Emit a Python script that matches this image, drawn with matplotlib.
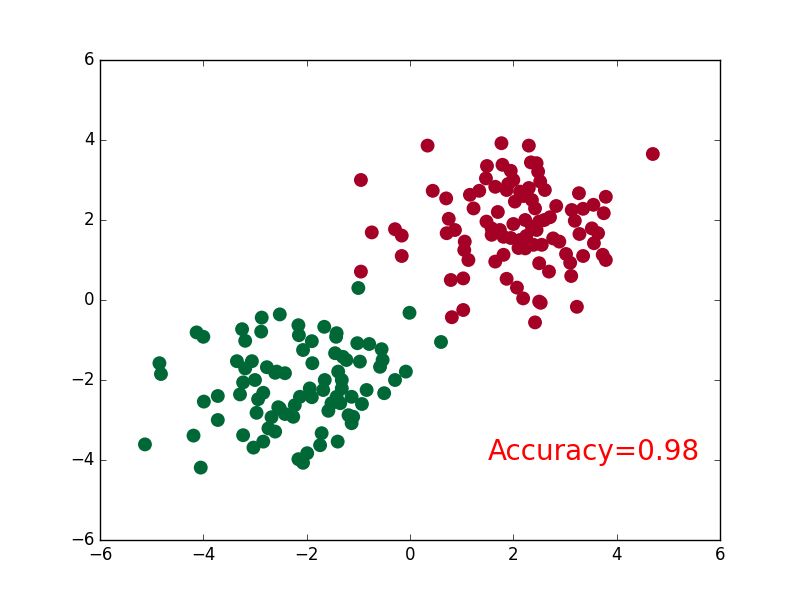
import matplotlib
matplotlib.use("Agg")
import matplotlib.pyplot as plt
import numpy as np

red_x = [0.34, 1.77, 2.30, -0.95, 1.49, 1.79, 1.95, 2.34, 1.47, 1.65, 2.00, 0.44, 0.70, 1.16, 1.34,
         1.23, 1.87, 2.13, 2.03, 2.36, 2.42, 0.75, 0.87, 0.71, 1.48, 1.58, 1.58, 1.81, 1.74, 2.23,
         2.36, 2.13, 2.23, 2.39, -0.74, -0.29, -0.16, 1.06, 1.05, 1.13, -0.16, 1.65, 1.81, 2.50,
         -0.95, 0.79, 1.03, 1.87, 2.07, 2.19, 2.50, 0.81, 1.03, 2.42, 4.70, 2.45, 2.48, 2.52, 2.61,
         3.27, 3.79, 2.83, 3.13, 3.35, 3.55, 3.75, 2.71, 2.50, 3.19, 2.45, 3.52, 3.64, 3.28, 2.77,
         2.89, 2.55, 3.56, 3.02, 3.35, 3.73, 3.79, 3.10, 2.69, 3.12, 2.53, 3.23,
         2.20, 1.90, 2.10, 2.60, 1.70, 2.00, 2.30, 1.95, 2.25]
red_y = [3.86, 3.92, 3.86, 3.00, 3.35, 3.38, 3.23, 3.44, 3.04, 2.83, 3.00, 2.73, 2.54, 2.63, 2.73,
         2.29, 2.75, 2.71, 2.46, 2.50, 2.29, 2.03, 1.75, 1.67, 1.96, 1.79, 1.63, 1.58, 1.75, 2.00,
         1.83, 1.50, 1.29, 1.38, 1.69, 1.77, 1.61, 1.46, 1.25, 1.00, 1.10, 0.96, 1.13, 0.92,
         0.71, 0.50, 0.54, 0.53, 0.31, 0.04, -0.04, -0.43, -0.25, -0.56, 3.65, 3.42, 3.21, 2.96, 2.75,
         2.67, 2.58, 2.35, 2.25, 2.28, 2.38, 2.17, 2.07, 1.96, 1.98, 1.75, 1.79, 1.67, 1.65, 1.54,
         1.46, 1.38, 1.42, 1.15, 1.10, 1.13, 1.00, 0.93, 0.71, 0.60, -0.07, -0.17,
         2.60, 2.90, 1.30, 2.00, 2.20, 1.90, 2.80, 1.55, 1.60]

green_x = [-2.87, -2.52, -4.13, -4.00, -3.25, -3.19, -2.88, -4.85, -4.82, -3.35, -3.06, -3.19, -2.77,
           -2.61, -3.23, -3.00, -3.29, -3.72, -3.99, -2.84, -2.94, -2.55, -2.97, -2.68, -3.72, -2.74,
           -2.61, -4.19, -3.23, -2.84, -3.03, -5.13, -4.05, -1.00, -0.01, -2.16, -2.15, -1.66, -1.42,
           -1.43, -1.90, -2.07, -1.02, -0.79, -0.55, -1.45, -1.30, -1.23, -0.97, -0.53, -0.58, -1.89,
           -2.58, -2.42, -1.39, -1.32, -0.08, -0.29, -1.65, -1.94, -1.68, -0.84, -1.32, -0.50, -2.13,
           -1.90, -1.42, -1.13, -0.93, -2.23, -2.52, -1.52, -1.35, -1.58, -2.26, -2.42, -1.19, -1.10,
           -1.13, -1.71, -1.74, -1.40, -1.99, -2.16, -2.07, 0.60]
green_y = [-0.44, -0.36, -0.81, -0.92, -0.73, -1.02, -0.79, -1.58, -1.85, -1.53, -1.53, -1.71, -1.68,
           -1.82, -2.06, -2.00, -2.36, -2.40, -2.54, -2.32, -2.48, -2.68, -2.82, -2.93, -3.00, -3.21,
           -3.29, -3.39, -3.38, -3.54, -3.69, -3.61, -4.19, 0.30, -0.32, -0.63, -0.88, -0.67, -0.83,
           -0.92, -1.03, -1.25, -1.08, -1.10, -1.23, -1.33, -1.42, -1.50, -1.54, -1.50, -1.67, -1.58,
           -1.79, -1.83, -1.79, -2.00, -1.79, -2.00, -2.00, -2.21, -2.25, -2.25, -2.21, -2.33, -2.42,
           -2.43, -2.42, -2.42, -2.60, -2.63, -2.71, -2.58, -2.58, -2.77, -2.92, -2.85, -2.88, -2.92,
           -3.08, -3.33, -3.63, -3.54, -3.83, -3.98, -4.07, -1.05]

accuracy = 0.98

plt.style.use('classic')
fig = plt.figure(figsize=(8, 6), dpi=100, facecolor='white')
ax = fig.add_subplot(111)
ax.scatter(red_x, red_y, s=100, c='#a50026', edgecolors='none')
ax.scatter(green_x, green_y, s=100, c='#006837', edgecolors='none')
ax.set_xlim(-6, 6)
ax.set_ylim(-6, 6)
ax.set_xticks(np.arange(-6, 7, 2))
ax.set_yticks(np.arange(-6, 7, 2))
ax.text(1.5, -4.0, 'Accuracy=%.2f' % accuracy, fontsize=20, color='red')
fig.savefig('out.png', dpi=100, facecolor='white')
